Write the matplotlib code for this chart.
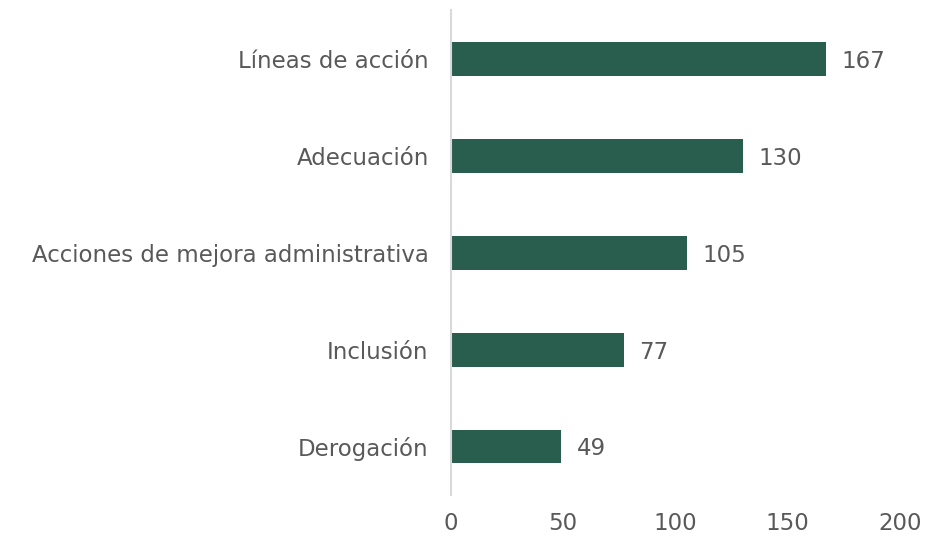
import matplotlib
matplotlib.use("Agg")
import matplotlib.pyplot as plt

categories = ["Líneas de acción", "Adecuación", "Acciones de mejora administrativa", "Inclusión", "Derogación"]
values = [167, 130, 105, 77, 49]
xticks = [0, 50, 100, 150, 200]

bar_color = "#295e4e"
text_color = "#595959"

plt.rcParams["font.family"] = ["DejaVu Sans"]

fig = plt.figure(figsize=(9.26, 5.38), dpi=100)
ax = fig.add_axes([0.487, 0.080, 0.485, 0.901])

pos = list(range(len(categories)))
ax.barh(pos, values, height=0.35, color=bar_color)
for p, v in zip(pos, values):
	ax.text(v + 7, p, str(v), va="center_baseline", ha="left", fontsize=16.5, color=text_color)

ax.set_xlim(0, 200)
ax.set_ylim(len(categories) - 0.5, -0.5)
ax.set_yticks(pos)
ax.set_yticklabels(categories, fontsize=16.5, color=text_color, va="center_baseline")
ax.set_xticks(xticks)
ax.set_xticklabels([str(t) for t in xticks], fontsize=16.5, color=text_color)
ax.tick_params(axis="both", length=0)
ax.tick_params(axis="y", pad=16)
ax.tick_params(axis="x", pad=12)

for s in ["top", "right", "bottom"]:
	ax.spines[s].set_visible(False)
ax.spines["left"].set_color("#d9d9d9")
ax.spines["left"].set_linewidth(1.5)

fig.savefig("out.png", dpi=100)
